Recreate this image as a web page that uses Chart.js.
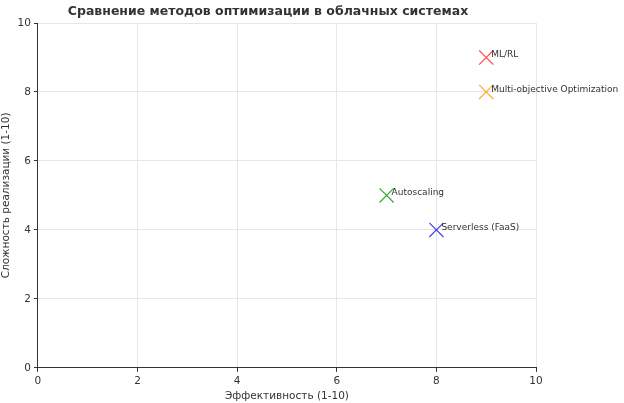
<!DOCTYPE html>
<html><head><meta charset="utf-8">
<script src="https://cdn.jsdelivr.net/npm/chart.js@4"></script>
<style>body{margin:0;background:#fff}#w{width:624px;height:403px}</style>
</head><body><div id="w"><canvas id="c"></canvas></div>
<script>
const names=["ML/RL","Multi-objective Optimization","Autoscaling","Serverless (FaaS)"];
const effX=[9,9,7,8];
const complY=[9,8,5,4];
const colors=["#ff4444","#ffaa33","#33aa33","#4444ee"];
const labelPlugin={id:'lbl',afterDatasetsDraw(ch){const c=ch.ctx,xs=ch.scales.x,ys=ch.scales.y;c.save();c.font='9px "DejaVu Sans"';c.fillStyle='#333';c.textBaseline='bottom';
names.forEach((n,i)=>{c.fillText(n,xs.getPixelForValue(effX[i])+5,ys.getPixelForValue(complY[i])+2);});c.restore();}};
new Chart(document.getElementById('c'),{type:'scatter',
data:{datasets:names.map((n,i)=>({label:n,data:[{x:effX[i],y:complY[i]}],pointStyle:'cross',rotation:45,radius:10,borderWidth:1.2,borderColor:colors[i],backgroundColor:colors[i]}))},
options:{responsive:true,maintainAspectRatio:false,animation:false,
layout:{padding:{right:88,top:0,left:0,bottom:0}},
plugins:{legend:{display:false},tooltip:{enabled:false},
title:{display:true,text:'Сравнение методов оптимизации в облачных системах',color:'#333',font:{family:'DejaVu Sans',size:12.5,weight:'bold'},padding:{top:4,bottom:4}}},
scales:{x:{min:0,max:10,ticks:{stepSize:2,color:'#333',font:{family:'DejaVu Sans',size:10.5}},grid:{color:'#e6e6e6',tickColor:'#333',tickLength:4},border:{color:'#333'},
title:{display:true,text:'Эффективность (1-10)',color:'#333',font:{family:'DejaVu Sans',size:10.5},padding:{top:0,bottom:0}}},
y:{min:0,max:10,ticks:{stepSize:2,color:'#333',font:{family:'DejaVu Sans',size:10.5}},grid:{color:'#e6e6e6',tickColor:'#333',tickLength:4},border:{color:'#333'},
title:{display:true,text:'Сложность реализации (1-10)',color:'#333',font:{family:'DejaVu Sans',size:10.5},padding:{top:0,bottom:2}}}}},
plugins:[labelPlugin]});
</script></body></html>
